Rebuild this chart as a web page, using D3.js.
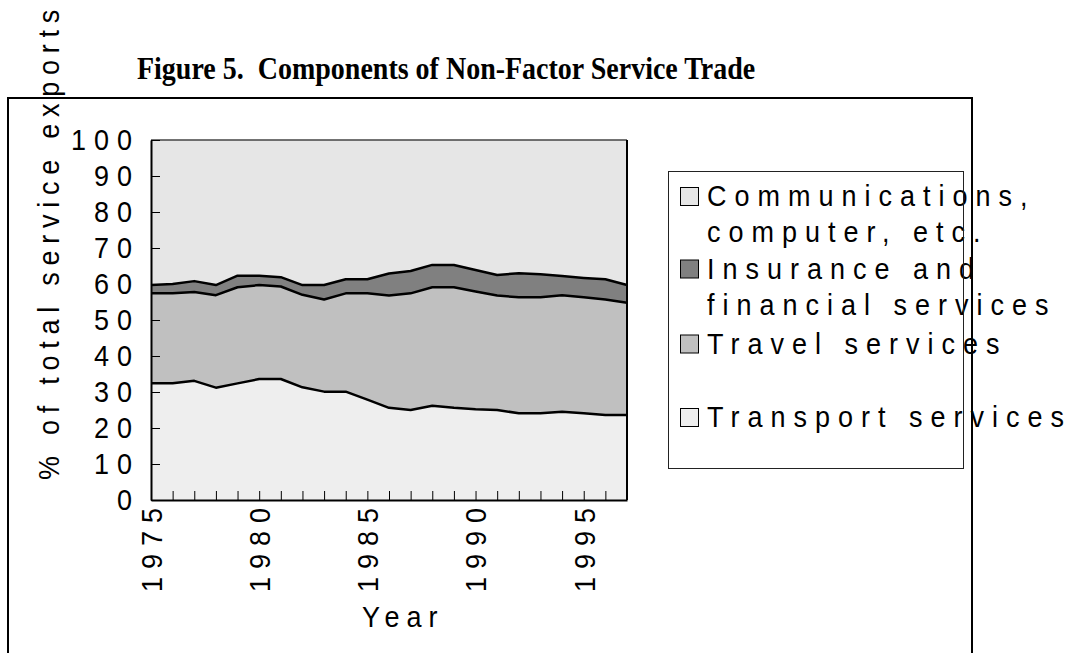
<!DOCTYPE html>
<html>
<head>
<meta charset="utf-8">
<script src="https://cdn.jsdelivr.net/npm/d3@7"></script>
<style>
    body { margin: 0; background: #fff; }
    svg { display: block; }
    text { font-family: 'Liberation Sans', Arial, sans-serif; }
</style>
</head>
<body>
<script>
const years = [1975, 1976, 1977, 1978, 1979, 1980, 1981, 1982, 1983, 1984, 1985, 1986,
    1987, 1988, 1989, 1990, 1991, 1992, 1993, 1994, 1995, 1996, 1997];

// % of total service exports, bottom of stack first
const transport = [32.4, 32.4, 33.1, 31.2, 32.4, 33.6, 33.6, 31.3, 30.1, 30.1, 27.9, 25.6,
    25.0, 26.2, 25.6, 25.2, 25.0, 24.1, 24.1, 24.5, 24.1, 23.6, 23.6];
const travel = [25.0, 25.0, 24.7, 25.7, 26.7, 26.1, 25.7, 25.7, 25.6, 27.3, 29.5, 31.2,
    32.4, 32.9, 33.5, 32.7, 31.8, 32.2, 32.2, 32.4, 32.2, 32.1, 31.2];
const insurance = [2.3, 2.6, 3.0, 2.8, 3.2, 2.6, 2.6, 2.7, 4.0, 3.9, 3.9, 6.1,
    6.2, 6.2, 6.2, 6.0, 5.7, 6.7, 6.4, 5.3, 5.4, 5.6, 4.9];
const communications = [40.3, 40.0, 39.2, 40.3, 37.7, 37.7, 38.1, 40.3, 40.3, 38.7, 38.7, 37.1,
    36.4, 34.7, 34.7, 36.1, 37.5, 37.0, 37.3, 37.8, 38.3, 38.7, 40.3];

const yTicks = [0, 10, 20, 30, 40, 50, 60, 70, 80, 90, 100];
const xLabelYears = [1975, 1980, 1985, 1990, 1995];

const keys = ['transport', 'travel', 'insurance', 'communications'];
const colors = {
    transport: '#eeeeee',
    travel: '#c0c0c0',
    insurance: '#808080',
    communications: '#e6e6e6'
};
const legendItems = [
    { key: 'communications', lines: ['Communications,', 'computer, etc.'] },
    { key: 'insurance', lines: ['Insurance and', 'financial services'] },
    { key: 'travel', lines: ['Travel services'] },
    { key: 'transport', lines: ['Transport services'] }
];
const legendBaselines = [206, 278.5, 353.5, 427];

const width = 1074;
const height = 653;
const plot = { left: 151, right: 627, top: 140, bottom: 500 };
// the original type is tall and narrow, stretch glyphs a little vertically
const stretch = 'scale(1,1.1)';

const table = years.map((yr, i) => ({
    year: yr,
    transport: transport[i],
    travel: travel[i],
    insurance: insurance[i],
    communications: communications[i]
}));

const series = d3.stack().keys(keys)(table);

const x = d3.scaleLinear().domain([1975, 1997]).range([plot.left, plot.right]);
const y = d3.scaleLinear().domain([0, 100]).range([plot.bottom, plot.top]);

const svg = d3.select('body')
    .append('svg')
    .attr('width', width)
    .attr('height', height);

// outer frame
svg.append('rect')
    .attr('x', 8)
    .attr('y', 98)
    .attr('width', 964)
    .attr('height', 600)
    .attr('fill', 'none')
    .attr('stroke', '#000')
    .attr('stroke-width', 2);

svg.append('text')
    .attr('transform', `translate(137,79) ${stretch}`)
    .style('font-family', "'Liberation Serif', 'Times New Roman', serif")
    .style('font-weight', 'bold')
    .style('font-size', '28px')
    .style('white-space', 'pre')
    .text('Figure 5.  Components of Non-Factor Service Trade');

const area = d3.area()
    .x((d) => x(d.data.year))
    .y0((d) => y(d[0]))
    .y1((d) => y(d[1]));

const topLine = d3.line()
    .x((d) => x(d.data.year))
    .y((d) => y(d[1]));

svg.append('g')
    .selectAll('path')
    .data(series)
    .join('path')
    .attr('d', area)
    .attr('fill', (d) => colors[d.key]);

svg.append('g')
    .selectAll('path')
    .data(series.filter((s) => s.key !== 'communications'))
    .join('path')
    .attr('d', topLine)
    .attr('fill', 'none')
    .attr('stroke', '#000')
    .attr('stroke-width', 2.5)
    .attr('stroke-linejoin', 'round');

// plot border
svg.append('line')
    .attr('x1', plot.left).attr('x2', plot.right)
    .attr('y1', plot.top).attr('y2', plot.top)
    .attr('stroke', '#444').attr('stroke-width', 1.5);
svg.append('line')
    .attr('x1', plot.right).attr('x2', plot.right)
    .attr('y1', plot.top).attr('y2', plot.bottom)
    .attr('stroke', '#000').attr('stroke-width', 2);

const yAxis = svg.append('g')
    .attr('transform', `translate(${plot.left},0)`)
    .call(d3.axisLeft(y).tickValues(yTicks).tickSize(-9).tickSizeOuter(0).tickPadding(11));

const xAxis = svg.append('g')
    .attr('transform', `translate(0,${plot.bottom})`)
    .call(d3.axisBottom(x)
        .tickValues(years)
        .tickSize(-9)
        .tickSizeOuter(0)
        .tickFormat((d) => (xLabelYears.includes(d) ? d : '')));

[yAxis, xAxis].forEach((g) => {
    g.select('.domain').attr('stroke', '#000').attr('stroke-width', 2);
    g.selectAll('.tick line').attr('stroke', '#000').attr('stroke-width', 1);
    g.selectAll('.tick text')
        .attr('fill', '#000')
        .style('font-family', "'Liberation Sans', Arial, sans-serif")
        .style('font-size', '27px')
        .style('letter-spacing', '8px');
});

yAxis.selectAll('.tick text')
    .attr('transform', stretch);

xAxis.selectAll('.tick text')
    .attr('x', 0)
    .attr('y', 0)
    .attr('dy', '0.35em')
    .attr('transform', `rotate(-90) ${stretch}`)
    .attr('text-anchor', 'end');

svg.append('text')
    .attr('transform', `translate(59,480) rotate(-90) ${stretch}`)
    .style('font-size', '27px')
    .style('letter-spacing', '6.75px')
    .text('% of total service exports');

svg.append('text')
    .attr('transform', `translate(362,627) ${stretch}`)
    .style('font-size', '27px')
    .style('letter-spacing', '7px')
    .text('Year');

// legend
const legend = svg.append('g');

legendItems.forEach((item, i) => {
    const base = legendBaselines[i];
    legend.append('rect')
        .attr('x', 680.5)
        .attr('y', base - 18.5)
        .attr('width', 18)
        .attr('height', 18)
        .attr('fill', colors[item.key])
        .attr('stroke', '#000')
        .attr('stroke-width', 1);
    legend.append('text')
        .attr('transform', `translate(707,${base}) ${stretch}`)
        .style('font-size', '27px')
        .style('letter-spacing', '8px')
        .selectAll('tspan')
        .data(item.lines)
        .join('tspan')
        .attr('x', 0)
        .attr('dy', (d, j) => (j === 0 ? 0 : 36.5 / 1.1))
        .text((d) => d);
});

legend.append('rect')
    .attr('x', 668.5)
    .attr('y', 171.5)
    .attr('width', 295)
    .attr('height', 297)
    .attr('fill', 'none')
    .attr('stroke', '#222')
    .attr('stroke-width', 1);

// frame right edge sits over the legend text in the original
svg.append('line')
    .attr('x1', 972).attr('x2', 972)
    .attr('y1', 98).attr('y2', height)
    .attr('stroke', '#000')
    .attr('stroke-width', 2);
</script>
</body>
</html>
